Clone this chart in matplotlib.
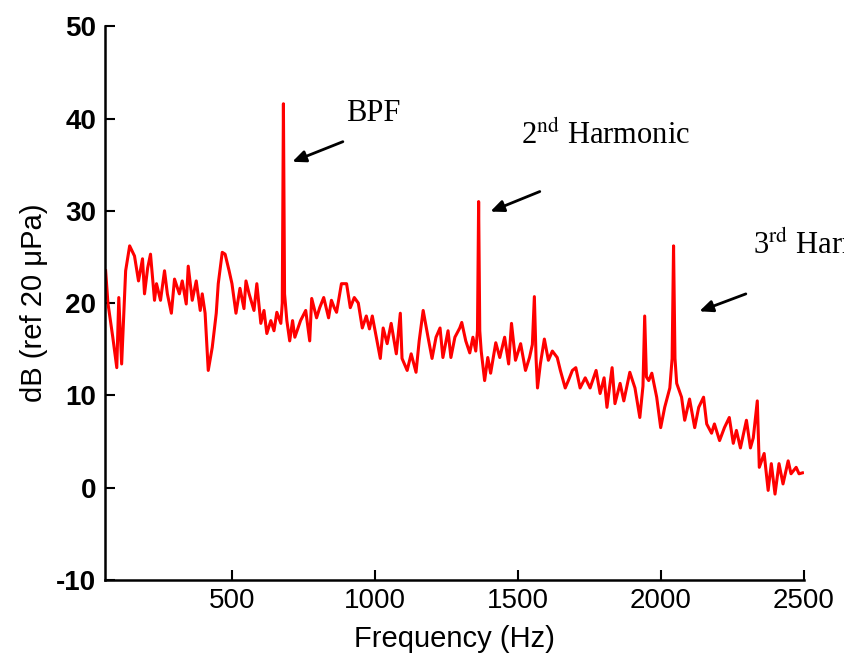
import numpy as np
import matplotlib
matplotlib.use("Agg")
import matplotlib.pyplot as plt

plt.rcParams['font.family'] = ['Liberation Sans', 'DejaVu Sans']
plt.rcParams['mathtext.fontset'] = 'stix'
plt.rcParams['axes.unicode_minus'] = False

# Espectro (Hz, dB ref 20 uPa)
freq = [58, 66, 83, 97, 104, 114, 128, 142, 159, 173, 187, 194, 205, 215, 229, 236,
        250, 264, 274, 288, 299, 316, 326, 340, 347, 361, 375, 389, 396, 406, 417, 431,
        445, 452, 466, 476, 490, 500, 514, 528, 542, 549, 560, 577, 587, 601, 612, 622,
        636, 647, 657, 671, 676, 680, 684, 692, 702, 712, 720, 740, 758, 772, 779, 796,
        807, 821, 838, 848, 858, 866, 883, 901, 914, 928, 942, 956, 970, 981, 991, 1005,
        1019, 1029, 1043, 1057, 1075, 1089, 1095, 1113, 1127, 1144, 1155, 1169, 1186, 1200,
        1214, 1228, 1238, 1256, 1266, 1280, 1297, 1304, 1318, 1332, 1343, 1353, 1359, 1363,
        1367, 1372, 1384, 1395, 1405, 1423, 1437, 1454, 1468, 1478, 1492, 1510, 1527, 1541,
        1551, 1558, 1564, 1569, 1579, 1593, 1607, 1621, 1638, 1649, 1666, 1677, 1691, 1703,
        1718, 1736, 1753, 1774, 1788, 1802, 1812, 1830, 1840, 1858, 1871, 1892, 1910, 1927,
        1938, 1944, 1950, 1958, 1969, 1986, 2000, 2014, 2032, 2040, 2045, 2050, 2056, 2073,
        2084, 2101, 2119, 2133, 2150, 2161, 2178, 2188, 2206, 2223, 2240, 2254, 2265, 2279,
        2300, 2314, 2324, 2338, 2345, 2362, 2376, 2387, 2400, 2414, 2428, 2446, 2456, 2474,
        2484, 2496]
nivel = [23.5, 20.0, 16.3, 13.0, 20.6, 13.4, 23.5, 26.2, 25.1, 22.4, 24.8, 21.0, 23.8, 25.3, 20.3, 22.1,
         20.3, 23.5, 21.0, 18.9, 22.6, 21.0, 22.4, 19.9, 24.0, 20.3, 22.4, 19.2, 21.0, 18.9, 12.7, 15.2,
         18.9, 22.1, 25.5, 25.3, 23.5, 22.1, 18.9, 21.6, 19.4, 22.4, 21.0, 19.2, 22.1, 17.8, 19.2, 16.7,
         18.1, 17.0, 19.0, 17.8, 20.0, 41.6, 21.0, 18.1, 15.9, 18.1, 16.3, 18.1, 19.2, 15.9, 20.5, 18.4,
         19.5, 20.6, 18.4, 20.3, 19.5, 19.0, 22.1, 22.1, 19.5, 20.6, 20.0, 17.3, 18.6, 17.2, 18.6, 16.3,
         14.0, 17.3, 15.6, 17.8, 14.5, 18.9, 14.0, 12.7, 14.5, 12.5, 15.9, 19.2, 16.3, 14.0,
         16.3, 17.3, 14.1, 17.0, 14.1, 16.3, 17.3, 17.9, 15.9, 14.6, 16.3, 14.8, 17.0, 31.0,
         17.0, 14.8, 11.6, 14.1, 12.4, 15.7, 14.1, 16.3, 13.4, 17.8, 13.8, 15.6, 12.7, 14.1,
         15.5, 20.7, 14.0, 10.8, 13.4, 16.1, 13.8, 14.8, 14.1, 12.7, 10.8, 11.6, 12.7, 13.0,
         10.8, 11.9, 10.8, 12.7, 10.2, 11.9, 8.7, 13.0, 9.1, 11.3, 9.4, 12.5, 10.8, 7.6,
         11.0, 18.6, 12.0, 11.6, 12.4, 9.8, 6.5, 8.7, 10.8, 14.0, 26.2, 14.0, 11.3, 9.8,
         7.3, 9.6, 6.5, 8.7, 9.8, 6.9, 5.9, 6.9, 5.1, 6.5, 7.6, 4.8, 6.2, 4.3,
         7.3, 4.3, 5.4, 9.4, 2.2, 3.7, -0.3, 2.6, -0.7, 2.6, 0.4, 2.9, 1.5, 2.2,
         1.5, 1.6]

ticks_x = [500, 1000, 1500, 2000, 2500]
ticks_y = [-10, 0, 10, 20, 30, 40, 50]

fig = plt.figure(figsize=(8.45, 6.56), dpi=100)
ax = fig.add_axes([0.124, 0.116, 0.827, 0.844])

ax.plot(freq, nivel, color='#ff0000', linewidth=2.2)

ax.set_xlim(55, 2500)
ax.set_ylim(-10, 50)
ax.set_xticks(ticks_x)
ax.set_yticks(ticks_y)
ax.tick_params(direction='in', length=7, width=1.5, labelsize=20, pad=6)
for lbl in ax.get_yticklabels():
    lbl.set_fontweight('bold')
for s in ['top', 'right']:
    ax.spines[s].set_visible(False)
for s in ['left', 'bottom']:
    ax.spines[s].set_linewidth(1.8)

ax.set_xlabel('Frequency (Hz)', fontsize=21, labelpad=8)
ax.set_ylabel('dB (ref 20 μPa)', fontsize=21, labelpad=6)

# Anotaciones
estilo = dict(arrowstyle='-|>,head_length=0.8,head_width=0.35', color='black', lw=2)
ax.annotate('', xy=(702, 35.2), xytext=(897, 37.6), arrowprops=estilo)
ax.annotate('', xy=(1395, 29.8), xytext=(1586, 32.2), arrowprops=estilo)
ax.annotate('', xy=(2126, 19.0), xytext=(2307, 21.1), arrowprops=estilo)

fuente = dict(family='Liberation Serif', fontsize=22, va='center', ha='left')
ax.text(900, 40.5, 'BPF', **fuente)
ax.text(1512, 38.1, r'2$^{\mathrm{nd}}$ Harmonic', **fuente)
ax.text(2324, 26.2, r'3$^{\mathrm{rd}}$ Harmonic', clip_on=False, **fuente)

fig.savefig('out.png', dpi=100)
